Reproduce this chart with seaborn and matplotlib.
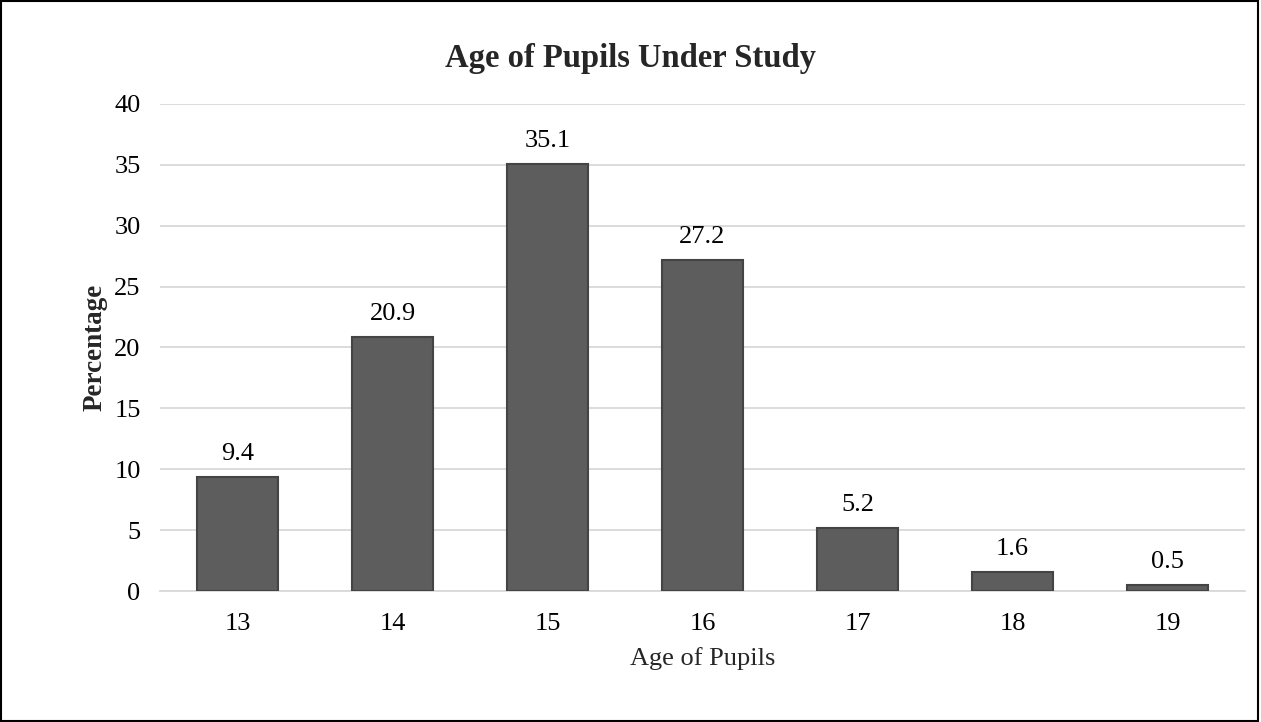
import matplotlib
matplotlib.use("Agg")
import matplotlib.pyplot as plt
import seaborn as sns
import pandas as pd
from matplotlib.patches import Rectangle

ages = ["13", "14", "15", "16", "17", "18", "19"]
percentages = [9.4, 20.9, 35.1, 27.2, 5.2, 1.6, 0.5]
y_ticks = [0, 5, 10, 15, 20, 25, 30, 35, 40]

sns.set_theme(style="white")
plt.rcParams["font.family"] = ["Liberation Serif", "DejaVu Serif"]

df = pd.DataFrame({"Age": ages, "Percentage": percentages})

fig = plt.figure(figsize=(12.61, 7.22), dpi=100)
ax = fig.add_axes([0.1269, 0.1814, 0.8604, 0.6746])

sns.barplot(data=df, x="Age", y="Percentage", ax=ax, color="#5d5d5d",
            width=0.52, saturation=1, edgecolor="#444444", linewidth=1.5, zorder=3)

ax.set_ylim(0, 40)
ax.set_xlim(-0.5, 6.5)
ax.set_yticks(y_ticks)
ax.set_yticklabels([str(t) for t in y_ticks])
ax.yaxis.grid(True, color="#d9d9d9", linewidth=1.3, zorder=0)
ax.xaxis.grid(False)
for s in ["top", "right", "left"]:
    ax.spines[s].set_visible(False)
ax.spines["bottom"].set_color("#d9d9d9")
ax.spines["bottom"].set_linewidth(1.3)
ax.tick_params(axis="y", length=0, labelsize=19, colors="black", pad=14)
ax.tick_params(axis="x", length=0, labelsize=19, colors="black", pad=15.5)

for i, v in enumerate(percentages):
    ax.annotate(f"{v}", (i, v), xytext=(0, 12), textcoords="offset points",
                ha="center", va="baseline", fontsize=19, color="black")

ax.set_xlabel("Age of Pupils", fontsize=19, labelpad=9)
ax.set_ylabel("Percentage", fontsize=19.5, fontweight="bold", labelpad=4.5)
fig.text(0.5, 0.9072, "Age of Pupils Under Study", ha="center", va="baseline",
         fontsize=23.5, fontweight="bold")

fig.patches.append(Rectangle((0.001, 0.002), 0.997, 0.996, transform=fig.transFigure,
                             fill=False, edgecolor="black", linewidth=1.5))

fig.savefig("out.png", dpi=100)
